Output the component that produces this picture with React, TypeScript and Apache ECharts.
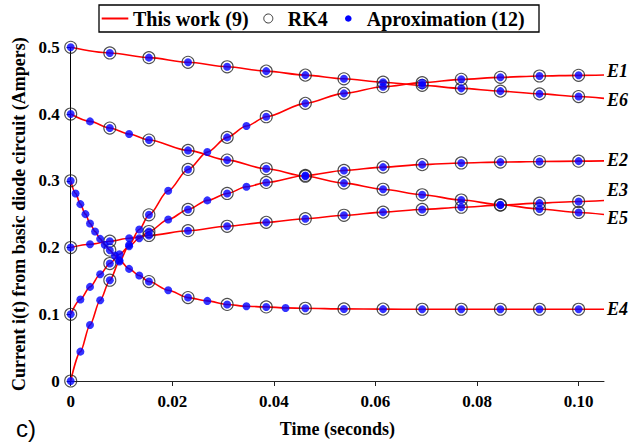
import React, { useEffect, useRef } from 'react';
import * as echarts from 'echarts';

const SERIF = '"Liberation Serif", "Times New Roman", serif';
const SANS = '"Liberation Sans", Arial, sans-serif';

// time grid of RK4 / This work points (seconds)
const tRK4 = [0, 0.0077, 0.0154, 0.0231, 0.0308, 0.0385, 0.0462, 0.0538, 0.0615, 0.0692, 0.0769, 0.0846, 0.0923, 0.1];
const tEnd = 0.105;

const xTicks = [0, 0.02, 0.04, 0.06, 0.08, 0.1];
const yTicks = [0, 0.1, 0.2, 0.3, 0.4, 0.5];

// E1 : rising from 0
const e1RK4 = [0, 0.151, 0.249, 0.317, 0.365, 0.396, 0.416, 0.431, 0.441, 0.447, 0.452, 0.455, 0.457, 0.458];
const e1End = 0.4585;
const e1ExtraT = [0.0019, 0.0038, 0.0058, 0.0096, 0.0115, 0.0135, 0.0192, 0.0269, 0.0346];
const e1ExtraV = [0.044, 0.084, 0.121, 0.179, 0.204, 0.227, 0.285, 0.343, 0.382];

// E6 : decreasing from 0.5
const e6RK4 = [0.5, 0.4915, 0.4845, 0.4775, 0.4708, 0.4643, 0.4583, 0.4528, 0.4477, 0.443, 0.4385, 0.4343, 0.4302, 0.4262];
const e6End = 0.4235;
const e6ExtraT: number[] = [];
const e6ExtraV: number[] = [];

// E2 : rising from 0.1
const e2RK4 = [0.1, 0.176, 0.224, 0.257, 0.281, 0.2975, 0.308, 0.3155, 0.3205, 0.3242, 0.3267, 0.328, 0.3288, 0.3294];
const e2End = 0.3298;
const e2ExtraT = [0.0019, 0.0038, 0.0058, 0.0096, 0.0115, 0.0135, 0.0192, 0.0269, 0.0346];
const e2ExtraV = [0.122, 0.141, 0.16, 0.19, 0.202, 0.214, 0.242, 0.2706, 0.291];

// E3 : rising from 0.2
const e3RK4 = [0.2, 0.2095, 0.218, 0.2252, 0.2318, 0.2377, 0.2432, 0.2483, 0.253, 0.257, 0.2604, 0.2635, 0.2665, 0.269];
const e3End = 0.2705;
const e3ExtraT = [0.0038, 0.0115];
const e3ExtraV = [0.205, 0.214];

// E5 : decreasing from 0.4
const e5RK4 = [0.4, 0.379, 0.361, 0.3455, 0.331, 0.318, 0.3068, 0.2965, 0.2873, 0.279, 0.2712, 0.264, 0.2577, 0.2525];
const e5End = 0.2495;
const e5ExtraT = [0.0038, 0.0115];
const e5ExtraV = [0.389, 0.37];

// E4 : decreasing from 0.3
const e4RK4 = [0.3, 0.196, 0.149, 0.125, 0.1147, 0.111, 0.109, 0.108, 0.1077, 0.1075, 0.1075, 0.1075, 0.1075, 0.1075];
const e4End = 0.1075;
const e4ExtraT = [0.00096, 0.0019, 0.0029, 0.0038, 0.0048, 0.0058, 0.0067, 0.0087, 0.0096, 0.0115, 0.0135, 0.0192, 0.0269, 0.0346, 0.0423];
const e4ExtraV = [0.281, 0.265, 0.25, 0.236, 0.224, 0.213, 0.204, 0.188, 0.181, 0.168, 0.158, 0.136, 0.12, 0.112, 0.1095];

const curves = [
  { label: 'E1', rk4: e1RK4, end: e1End, extraT: e1ExtraT, extraV: e1ExtraV, dy: -3.5 },
  { label: 'E6', rk4: e6RK4, end: e6End, extraT: e6ExtraT, extraV: e6ExtraV, dy: 1.7 },
  { label: 'E2', rk4: e2RK4, end: e2End, extraT: e2ExtraT, extraV: e2ExtraV, dy: -1 },
  { label: 'E3', rk4: e3RK4, end: e3End, extraT: e3ExtraT, extraV: e3ExtraV, dy: -10 },
  { label: 'E5', rk4: e5RK4, end: e5End, extraT: e5ExtraT, extraV: e5ExtraV, dy: 4 },
  { label: 'E4', rk4: e4RK4, end: e4End, extraT: e4ExtraT, extraV: e4ExtraV, dy: 0 },
];

function buildOption() {
  const lineSeries: any[] = [];
  const rkSeries: any[] = [];
  const apSeries: any[] = [];
  curves.forEach((c) => {
    const rkPts = tRK4.map((t, i) => [t, c.rk4[i]]);
    const exPts = c.extraT.map((t, i) => [t, c.extraV[i]]);
    const all = rkPts.concat(exPts).sort((a, b) => a[0] - b[0]);
    const linePts = all.concat([[tEnd, c.end]]);
    lineSeries.push({
      type: 'line',
      name: 'This work (9)',
      data: linePts,
      showSymbol: false,
      symbol: 'none',
      smooth: 0.3,
      smoothMonotone: 'x',
      clip: false,
      z: 2,
      lineStyle: { color: '#ff0000', width: 1.6 },
      endLabel: {
        show: true,
        formatter: c.label,
        distance: 3,
        offset: [0, c.dy],
        fontFamily: SERIF,
        fontStyle: 'italic',
        fontWeight: 'bold',
        fontSize: 18,
        color: '#000',
      },
    });
    rkSeries.push({
      type: 'scatter',
      name: 'RK4',
      data: rkPts,
      symbol: 'circle',
      symbolSize: 12,
      clip: false,
      z: 3,
      itemStyle: { color: 'rgba(0,0,0,0)', borderColor: '#222', borderWidth: 1.1 },
    });
    apSeries.push({
      type: 'scatter',
      name: 'Aproximation (12)',
      data: all,
      symbol: 'circle',
      symbolSize: 8,
      clip: false,
      z: 4,
      itemStyle: { color: '#0000ff' },
    });
  });

  const legendY = 18.5;
  return {
    animation: false,
    backgroundColor: '#fff',
    grid: { left: 70.7, right: 25, top: 47.3, bottom: 55.7 },
    xAxis: {
      type: 'value',
      min: 0,
      max: tEnd,
      interval: 0.02,
      name: 'Time (seconds)',
      nameLocation: 'middle',
      nameGap: 39,
      nameTextStyle: { fontFamily: SERIF, fontWeight: 'bold', fontSize: 18, color: '#000' },
      axisLine: { lineStyle: { color: '#222', width: 1 } },
      axisTick: { show: true, inside: false, length: 5, customValues: xTicks, lineStyle: { color: '#222' } },
      axisLabel: {
        customValues: xTicks,
        margin: 12,
        fontFamily: SERIF,
        fontWeight: 'bold',
        fontSize: 17,
        color: '#000',
        formatter: (v: number) => (v === 0 ? '0' : v.toFixed(2)),
      },
      splitLine: { show: false },
    },
    yAxis: {
      type: 'value',
      min: 0,
      max: 0.5,
      interval: 0.1,
      name: 'Current i(t) from basic diode circuit (Ampers)',
      nameLocation: 'middle',
      nameGap: 40,
      nameTextStyle: { fontFamily: SERIF, fontWeight: 'bold', fontSize: 18, color: '#000' },
      axisLine: { show: true, lineStyle: { color: '#000', width: 1 } },
      axisTick: { show: true, inside: false, length: 4, customValues: yTicks, lineStyle: { color: '#000' } },
      axisLabel: {
        customValues: yTicks,
        margin: 11,
        fontFamily: SERIF,
        fontWeight: 'bold',
        fontSize: 17,
        color: '#000',
        formatter: (v: number) => (v === 0 ? '0' : v.toFixed(1)),
      },
      splitLine: { show: false },
    },
    graphic: [
      {
        type: 'rect',
        shape: { x: 99, y: 5, width: 440, height: 27 },
        style: { fill: '#fff', stroke: '#000', lineWidth: 1.3 },
        z: 10,
      },
      {
        type: 'line',
        shape: { x1: 101.7, y1: legendY, x2: 128.3, y2: legendY },
        style: { stroke: '#ff0000', lineWidth: 2 },
        z: 11,
      },
      {
        type: 'text',
        x: 133,
        y: legendY,
        style: { text: 'This work (9)', fontFamily: SERIF, fontWeight: 'bold', fontSize: 20, fill: '#000', verticalAlign: 'middle', align: 'left' },
        z: 11,
      },
      {
        type: 'circle',
        shape: { cx: 268.3, cy: legendY, r: 4.5 },
        style: { fill: 'none', stroke: '#333', lineWidth: 1 },
        z: 11,
      },
      {
        type: 'text',
        x: 287.7,
        y: legendY,
        style: { text: 'RK4', fontFamily: SERIF, fontWeight: 'bold', fontSize: 20, fill: '#000', verticalAlign: 'middle', align: 'left' },
        z: 11,
      },
      {
        type: 'circle',
        shape: { cx: 348.3, cy: legendY, r: 3.3 },
        style: { fill: '#0000ff' },
        z: 11,
      },
      {
        type: 'text',
        x: 366.7,
        y: legendY,
        style: { text: 'Aproximation (12)', fontFamily: SERIF, fontWeight: 'bold', fontSize: 20, fill: '#000', verticalAlign: 'middle', align: 'left' },
        z: 11,
      },
      {
        type: 'text',
        x: 16,
        y: 428,
        style: { text: 'c)', fontFamily: SANS, fontSize: 24, fill: '#000', verticalAlign: 'middle', align: 'left' },
        z: 11,
      },
    ],
    series: [...lineSeries, ...rkSeries, ...apSeries],
  };
}

export default function App() {
  const ref = useRef<HTMLDivElement>(null);
  useEffect(() => {
    if (!ref.current) return;
    const chart = echarts.init(ref.current, null, { renderer: 'svg' });
    chart.setOption(buildOption() as any);
    return () => chart.dispose();
  }, []);
  return <div ref={ref} style={{ position: 'absolute', left: 0, top: 0, width: 629, height: 443 }} />;
}
